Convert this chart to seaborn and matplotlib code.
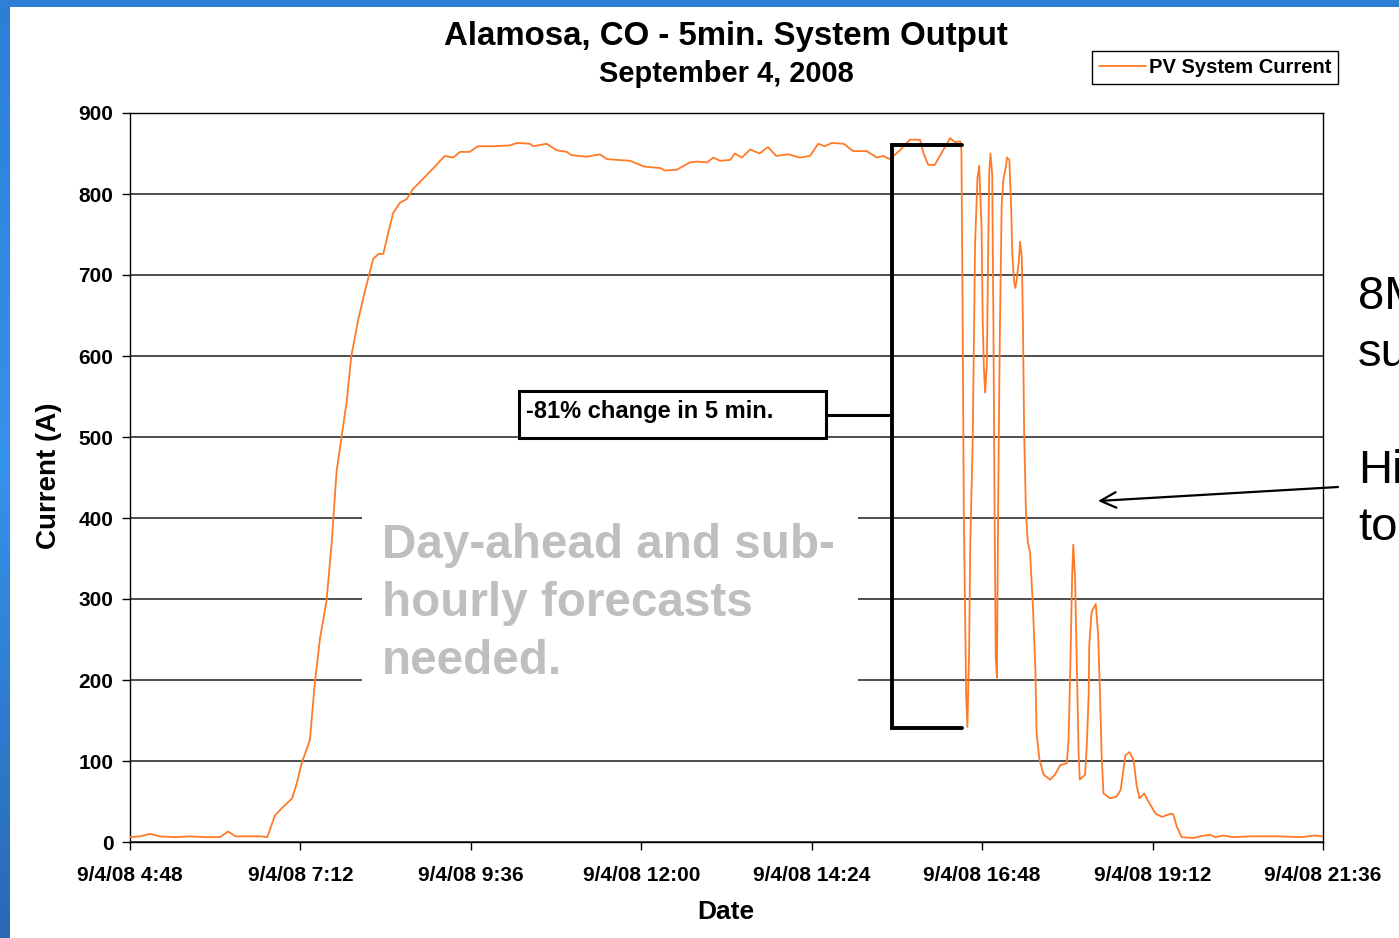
import matplotlib
matplotlib.use("Agg")
import matplotlib.pyplot as plt
import matplotlib.dates as mdates
import seaborn as sns
import pandas as pd
import numpy as np
from matplotlib.patches import Rectangle

# PV system current (minutes after midnight, 9/4/2008)
minute_of_day = [
    288, 296.5, 305, 313, 326, 339, 351, 364, 371, 377, 385, 398, 404,
    410.5, 416.5, 425, 429, 433, 440, 444, 448.5, 454, 458.5, 462.5, 467,
    471, 475, 481, 486.5, 493.5, 498, 502, 506, 510.5, 516, 522, 527, 538.5,
    554, 561, 567, 575, 582, 595, 609, 615, 626, 628.5, 640, 648.5, 657,
    661, 674, 685, 691, 710.5, 722, 736, 740, 750, 761, 767, 775.5, 781,
    786.5, 795, 799, 805, 812, 820, 827, 834, 844, 854, 862.5, 869.5, 875,
    881, 891, 899, 910.5, 919, 924.5, 930, 938.5, 947, 955.5, 958.5, 962.5,
    968, 975, 981, 985, 989.5, 990.5, 991.5, 992.5, 994.5, 995.5, 997, 998,
    1000, 1001, 1002, 1004, 1005.5, 1007.5, 1008.5, 1009.5, 1010.5, 1012,
    1013, 1014, 1015, 1016.5, 1017.5, 1018.5, 1019.5, 1020.5, 1021.5, 1023,
    1024.5, 1026, 1028, 1029, 1031, 1032.5, 1033.5, 1035, 1036, 1037, 1039,
    1040, 1041.5, 1042.5, 1043.5, 1045, 1046.5, 1048.5, 1051, 1053, 1054,
    1056.5, 1060, 1065.5, 1069.5, 1074, 1079.5, 1081, 1082.5, 1084, 1085,
    1086.5, 1088, 1089.5, 1090.5, 1095, 1096.5, 1098, 1098.5, 1100.5, 1104,
    1106, 1107.5, 1109, 1110.5, 1116, 1121.5, 1125, 1129, 1132.5, 1136,
    1138.5, 1141, 1145, 1148.5, 1154.5, 1160, 1167.5, 1169.5, 1172.5,
    1176.5, 1186.5, 1192, 1200.5, 1205, 1212, 1220, 1234.5, 1260, 1277,
    1289, 1296,
]
current_amps = [
    6, 7, 10, 7, 6, 7, 6, 6, 13, 7, 7, 7, 6,
    33, 42, 54, 73, 97, 126, 194, 251, 297, 371, 457, 503,
    543, 600, 646, 680, 720, 726, 726, 751, 777, 789, 794, 806, 823,
    847, 845, 852, 852, 859, 859, 860, 863, 862, 859, 862, 854, 852,
    848, 846, 849, 843, 841, 834, 832, 829, 830, 839, 840, 839, 845,
    841, 842, 850, 845, 855, 850, 858, 847, 849, 845, 847, 862, 859,
    863, 862, 853, 853, 845, 847, 843, 854, 867, 867, 850, 836,
    836, 854, 869, 864, 865, 854, 656, 408, 180, 142, 236, 371,
    493, 611, 736, 819, 835, 758, 642, 585, 555, 590,
    720, 826, 850, 824, 644, 413, 227, 203, 413, 633,
    786, 819, 833, 845, 842, 783, 725, 692, 684, 692, 717,
    741, 722, 637, 505, 408, 371, 357, 288, 211, 134,
    101, 83, 77, 83, 95, 97, 126, 216, 326, 367,
    326, 216, 110, 77, 83, 122, 181, 243, 284, 294,
    256, 186, 105, 60, 54, 56, 64, 107, 111, 101,
    70, 54, 60, 50, 35, 31, 35, 34, 19,
    6, 5, 7, 9, 6, 8, 6, 7, 7, 6,
    8, 7,
]

tick_minutes = [288, 432, 576, 720, 864, 1008, 1152, 1296]
tick_labels = ["9/4/08 4:48", "9/4/08 7:12", "9/4/08 9:36", "9/4/08 12:00",
               "9/4/08 14:24", "9/4/08 16:48", "9/4/08 19:12", "9/4/08 21:36"]
y_ticks = [0, 100, 200, 300, 400, 500, 600, 700, 800, 900]

W, H = 1399, 938
day = pd.Timestamp("2008-09-04")


def mx(m):
    # minutes after midnight -> matplotlib date number
    return mdates.date2num((day + pd.Timedelta(minutes=m)).to_pydatetime())


sns.set_theme(style="white")
plt.rcParams["font.family"] = ["Liberation Sans", "DejaVu Sans"]
plt.rcParams["text.color"] = "black"
plt.rcParams["axes.labelcolor"] = "black"
plt.rcParams["xtick.color"] = "black"
plt.rcParams["ytick.color"] = "black"

fig = plt.figure(figsize=(W / 100, H / 100), dpi=100)
fig.patch.set_facecolor("white")

# slide border (blue strips on the left and top)
grad = fig.add_axes([0, 0, 10 / W, 1])
grad.imshow(np.linspace(0, 1, 256).reshape(-1, 1), aspect="auto",
            cmap=matplotlib.colors.LinearSegmentedColormap.from_list(
                "edge", ["#2d7fd6", "#3592ea", "#2a68b6"]))
grad.set_axis_off()
fig.add_artist(Rectangle((0, 1 - 7 / H), 1, 7 / H, transform=fig.transFigure,
                         facecolor="#2e80d7", edgecolor="none"))

ax = fig.add_axes([130 / W, (H - 842) / H, (1323 - 130) / W, (842 - 113) / H])

df = pd.DataFrame({
    "Date": day + pd.to_timedelta(minute_of_day, unit="m"),
    "Current (A)": current_amps,
})
sns.lineplot(data=df, x="Date", y="Current (A)", color="#ff7a26", lw=1.3,
             label="PV System Current", ax=ax, zorder=3)

ax.set_xlim(mx(tick_minutes[0]), mx(tick_minutes[-1]))
ax.set_ylim(0, 900)
ax.set_xticks([mx(m) for m in tick_minutes])
ax.set_xticklabels(tick_labels, fontsize=15, fontweight="bold")
ax.set_yticks(y_ticks)
ax.set_yticklabels([str(v) for v in y_ticks], fontsize=15, fontweight="bold")
ax.tick_params(axis="both", direction="out", length=6, width=1, color="black",
               pad=6, bottom=True, left=True)
ax.tick_params(axis="x", pad=11)

ax.grid(axis="y", color="#303030", lw=1.2)
ax.grid(axis="x", visible=False)
ax.set_axisbelow(True)
for sp in ax.spines.values():
    sp.set_color("black")
    sp.set_linewidth(1.0)

ax.set_xlabel("Date", fontsize=19, fontweight="bold")
ax.set_ylabel("Current (A)", fontsize=20, fontweight="bold")
ax.xaxis.set_label_coords(0.4996, -0.080)
ax.yaxis.set_label_coords(-0.057, 0.503)

# white panel behind the forecast note (breaks the gridlines)
ax.add_patch(Rectangle((mx(484), 170), mx(903) - mx(484), 250,
                       facecolor="white", edgecolor="none", zorder=1))
ax.text(mx(501), 294, "Day-ahead and sub-\nhourly forecasts\nneeded.",
        color="#bfbfbf", fontsize=34.3, fontweight="bold", va="center",
        ha="left", linespacing=1.37, zorder=2)

# -81% callout
ax.add_patch(Rectangle((mx(617), 499), mx(876) - mx(617), 58,
                       facecolor="white", edgecolor="black", lw=2.2, zorder=4))
ax.text(mx(623), 531, "-81% change in 5 min.", fontsize=17,
        fontweight="bold", va="center", ha="left", zorder=5)
ax.plot([mx(876), mx(932)], [527, 527], color="black", lw=2.2, zorder=4)
ax.plot([mx(991), mx(932), mx(932), mx(991)], [860, 860, 141, 141],
        color="black", lw=2.8, zorder=4, solid_joinstyle="miter")

# legend
leg = ax.legend(loc="upper right", bbox_to_anchor=(1338 / W, 1 - 51 / H),
                bbox_transform=fig.transFigure, fancybox=False,
                edgecolor="black", framealpha=1, borderpad=0.35,
                borderaxespad=0, handlelength=2.3, handletextpad=0.15,
                prop={"size": 14.5, "weight": "bold"})
leg.get_frame().set_linewidth(1.0)

# titles
fig.text(726 / W, 1 - 36 / H, "Alamosa, CO - 5min. System Output",
         ha="center", va="center", fontsize=23.8, fontweight="bold")
fig.text(726 / W, 1 - 74 / H, "September 4, 2008",
         ha="center", va="center", fontsize=20.9, fontweight="bold")

# slide text running off the right edge
for txt, ypx in [("8M", 297), ("su", 354), ("Hi", 471), ("to", 528)]:
    fig.text(1358 / W, 1 - ypx / H, txt, ha="left", va="center",
             fontsize=34, color="black")

ax.annotate("", xy=(1098 / W, 1 - 501 / H), xytext=(1338 / W, 1 - 487 / H),
            xycoords="figure fraction", textcoords="figure fraction",
            arrowprops=dict(arrowstyle="->", lw=1.6, color="black",
                            mutation_scale=28, shrinkA=0, shrinkB=0))

fig.savefig("out.png", dpi=100)
